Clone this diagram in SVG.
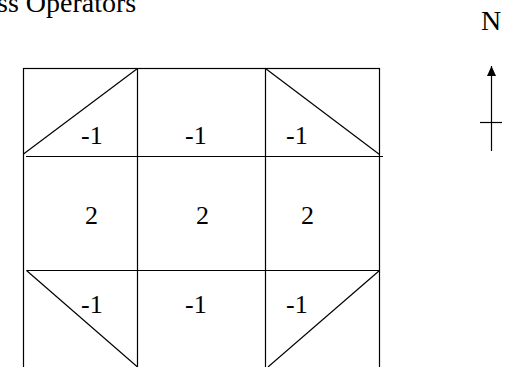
<svg xmlns="http://www.w3.org/2000/svg" width="518" height="367" viewBox="0 0 518 367">
<defs>
<style>
.ln{stroke:#000;stroke-width:1.2;fill:none}
.t{font-family:"Liberation Serif","Times New Roman",serif;font-size:26px;fill:#000}
.big{font-family:"Liberation Serif","Times New Roman",serif;font-size:28px;fill:#000}
</style>
<marker id="ah" viewBox="0 0 10 10" refX="10" refY="5" markerWidth="10" markerHeight="9" markerUnits="userSpaceOnUse" orient="auto-start-reverse" preserveAspectRatio="none">
<path d="M0,0 L10,5 L0,10 Z" fill="#000"/>
</marker>
</defs>
<rect width="518" height="367" fill="#fff"/>
<text class="big" x="-3" y="12">ss Operators</text>
<g id="grid">
<rect class="ln" x="23.5" y="68.5" width="356" height="310"/>
<line class="ln" x1="137.5" y1="68.5" x2="137.5" y2="367"/>
<line class="ln" x1="265.5" y1="68.5" x2="265.5" y2="367"/>
<line class="ln" x1="26" y1="156.5" x2="383" y2="156.5"/>
<line class="ln" x1="26.5" y1="270.5" x2="380" y2="270.5"/>
<line class="ln" x1="23.5" y1="154" x2="137.5" y2="68.5"/>
<line class="ln" x1="265.5" y1="68.5" x2="379.5" y2="154.5"/>
<line class="ln" x1="26.5" y1="270.5" x2="137.5" y2="367"/>
<line class="ln" x1="379.5" y1="270.5" x2="268" y2="367"/>
</g>
<g id="values">
<text class="t" x="81" y="144">-1</text>
<text class="t" x="185" y="144">-1</text>
<text class="t" x="286" y="144">-1</text>
<text class="t" x="85" y="224">2</text>
<text class="t" x="196" y="224">2</text>
<text class="t" x="301" y="224">2</text>
<text class="t" x="81" y="313">-1</text>
<text class="t" x="185" y="313">-1</text>
<text class="t" x="286" y="313">-1</text>
</g>
<g id="compass">
<text class="big" x="481" y="30">N</text>
<line class="ln" x1="491.5" y1="66" x2="491.5" y2="151" marker-start="url(#ah)"/>
<line class="ln" x1="480" y1="122.5" x2="502" y2="122.5"/>
</g>
</svg>
